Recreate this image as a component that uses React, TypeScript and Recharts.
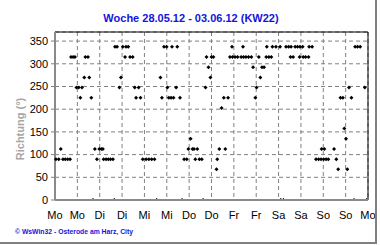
import React from 'react'
import {
  ScatterChart, Scatter, XAxis, YAxis, CartesianGrid, ReferenceLine,
} from 'recharts'

// Windrichtung, Woche 28.05.12 - 03.06.12: [Stunde des Tages, Richtung in Grad]
const montag: [number, number][] = [
  [0.5, 90], [2.0, 90], [3.1, 112.5], [4.3, 90], [5.5, 90], [6.8, 90], [8.1, 90],
  [8.6, 315], [9.7, 315], [10.7, 315], [11.5, 247.5], [12.7, 247.5], [13.6, 225],
  [14.5, 247.5], [15.7, 270], [16.3, 315], [17.7, 315], [18.4, 270], [19.5, 225],
  [20.4, 0], [21.4, 112.5], [22.5, 90], [23.8, 112.5],
]
const dienstag: [number, number][] = [
  [0.9, 112.5], [1.7, 112.5], [2.1, 90], [3.4, 90], [4.6, 90], [5.8, 90], [7.1, 90],
  [7.8, 0], [8.2, 337.5], [9.3, 337.5], [10.6, 247.5], [11.4, 270], [12.4, 337.5],
  [13.6, 315], [14.1, 337.5], [15.3, 337.5], [16.3, 315], [17.7, 315], [18.8, 247.5],
  [19.5, 225], [20.9, 247.5], [21.9, 225], [23.1, 90],
]
const mittwoch: [number, number][] = [
  [0.9, 90], [2.4, 90], [3.9, 90], [5.4, 90], [6.6, 0], [8.6, 270], [9.4, 225],
  [10.5, 337.5], [11.9, 337.5], [12.3, 247.5], [13.1, 225], [14.3, 225], [14.8, 337.5],
  [15.6, 225], [17.0, 247.5], [17.6, 337.5], [19.1, 225], [20.2, 0], [21.3, 90],
  [22.7, 90], [23.6, 112.5],
]
const donnerstag: [number, number][] = [
  [0.8, 135], [1.8, 112.5], [2.6, 112.5], [3.3, 90], [4.4, 112.5], [5.5, 90], [6.8, 90],
  [7.5, 0], [8.8, 247.5], [9.3, 315], [10.4, 292.5], [11.4, 270], [12.0, 315],
  [13.0, 315], [14.7, 67.5], [15.1, 90], [16.2, 112.5], [17.4, 202.5], [18.6, 225],
  [19.4, 112.5], [20.9, 225], [21.9, 315], [23.0, 337.5], [23.3, 315],
]
const freitag: [number, number][] = [
  [0.6, 315], [2.0, 315], [3.9, 315], [4.9, 337.5], [5.2, 315], [6.5, 315], [7.9, 315],
  [9.4, 315], [10.3, 292.5], [11.5, 225], [12.2, 247.5], [13.4, 315], [14.2, 270],
  [15.1, 292.5], [16.2, 292.5], [17.4, 315], [17.7, 337.5], [18.8, 315], [20.1, 315],
  [20.7, 337.5], [22.6, 337.5],
]
const samstag: [number, number][] = [
  [0.8, 337.5], [1.2, 0], [2.6, 0], [4.0, 337.5], [5.4, 337.5], [6.4, 315], [6.7, 337.5],
  [7.8, 315], [8.9, 337.5], [10.2, 337.5], [11.3, 315], [11.5, 337.5], [12.9, 337.5],
  [13.2, 315], [14.5, 315], [16.1, 315], [16.4, 337.5], [18.0, 337.5], [20.1, 90],
  [21.5, 90], [22.8, 90], [23.1, 112.5],
]
const sonntag: [number, number][] = [
  [0.2, 90], [0.6, 112.5], [1.5, 90], [2.7, 90], [5.8, 112.5], [7.0, 90], [8.0, 67.5],
  [9.2, 225], [10.5, 225], [11.3, 157.5], [12.2, 135], [12.9, 67.5], [13.8, 247.5],
  [15.1, 225], [16.5, 0], [17.1, 337.5], [18.4, 337.5], [19.8, 337.5], [22.3, 247.5],
  [23.3, 0],
]
const days = [montag, dienstag, mittwoch, donnerstag, freitag, samstag, sonntag]

const tickHours = [0, 12, 24, 36, 48, 60, 72, 84, 96, 108, 120, 132, 144, 156, 168]
const tickLabels = ['Mo', 'Mo', 'Di', 'Di', 'Mi', 'Mi', 'Do', 'Do', 'Fr', 'Fr', 'Sa', 'Sa', 'So', 'So', 'Mo']
const yTicks = [0, 50, 100, 150, 200, 250, 300, 350]
const minorTicks = Array.from({ length: 85 }, (_, i) => i * 2)

const data = days.flatMap((day, d) => day.map(([h, dir]) => ({ x: d * 24 + h, y: dir })))

const FONT = '"Liberation Sans", Arial, sans-serif'
const BLUE = '#1414dc'

// kleines Kreuz wie im Original; Punkte bei 0° liegen fast ganz unter der Achse
const Marker = (props: any) => {
  const { cx, cy, payload } = props
  if (cx == null || cy == null) return null
  if (payload && payload.y === 0) {
    return <rect x={cx - 0.5} y={cy - 2} width={1} height={1} fill="#000" />
  }
  return (
    <path
      d={`M${cx},${cy - 2} L${cx + 2},${cy} L${cx},${cy + 2} L${cx - 2},${cy} Z`}
      fill="#000"
    />
  )
}

// Nebenstriche alle 2 Stunden, nach oben in die Grafik
const MinorTick = (props: any) => {
  const { x, y } = props
  return <line x1={x} x2={x} y1={y - 3} y2={y} stroke="#606060" />
}

export default function App() {
  return (
    <div style={{ position: 'absolute', left: 0, top: 0, width: 380, height: 245, background: '#fff' }}>
      <ScatterChart width={380} height={245} margin={{ top: 32, right: 12, bottom: 25, left: 0 }}>
        <CartesianGrid stroke="#808080" strokeDasharray="4 3" />
        <XAxis
          xAxisId="minor"
          type="number"
          dataKey="x"
          domain={[0, 168]}
          ticks={minorTicks}
          interval={0}
          height={0}
          tick={<MinorTick />}
          tickSize={0}
          tickMargin={0}
          tickLine={false}
          axisLine={false}
        />
        <XAxis
          type="number"
          dataKey="x"
          domain={[0, 168]}
          ticks={tickHours}
          interval={0}
          height={20}
          tickFormatter={(_v: number, i: number) => tickLabels[i]}
          tick={{ fontSize: 11, fill: '#000', fontFamily: FONT }}
          tickLine={false}
          tickSize={4}
          tickMargin={7}
          axisLine={{ stroke: '#8a8a8a', strokeWidth: 2 }}
        />
        <YAxis
          type="number"
          dataKey="y"
          domain={[0, 370]}
          ticks={yTicks}
          interval={0}
          width={55}
          tick={{ fontSize: 11, fill: '#000', fontFamily: FONT }}
          tickSize={4}
          tickMargin={3}
          tickLine={{ stroke: '#808080' }}
          axisLine={{ stroke: '#8a8a8a', strokeWidth: 2 }}
        />
        <ReferenceLine y={370} stroke="#000" strokeWidth={1} />
        <ReferenceLine x={168} stroke="#000" strokeWidth={1} />
        <Scatter data={data} shape={<Marker />} isAnimationActive={false} />
      </ScatterChart>
      <svg width={380} height={245} style={{ position: 'absolute', left: 0, top: 0, pointerEvents: 'none' }}>
        <text x={191} y={22} textAnchor="middle" fontFamily={FONT} fontWeight="bold" fontSize={11} fill={BLUE}>
          Woche 28.05.12 - 03.06.12 (KW22)
        </text>
        <text
          x={0}
          y={0}
          transform="translate(24,129) rotate(-90)"
          textAnchor="middle"
          fontFamily={FONT}
          fontWeight="bold"
          fontSize={11}
          fill="#a6a6a6"
        >
          Richtung (°)
        </text>
        <text x={15} y={234} fontFamily={FONT} fontWeight="bold" fontSize={7} fill={BLUE} textLength={118} lengthAdjust="spacingAndGlyphs">
          © WsWin32 - Osterode am Harz, City
        </text>
        <line x1={376} y1={0} x2={376} y2={244} stroke="#808080" strokeWidth={2} />
        <line x1={0} y1={243} x2={377} y2={243} stroke="#808080" strokeWidth={2} />
      </svg>
    </div>
  )
}
